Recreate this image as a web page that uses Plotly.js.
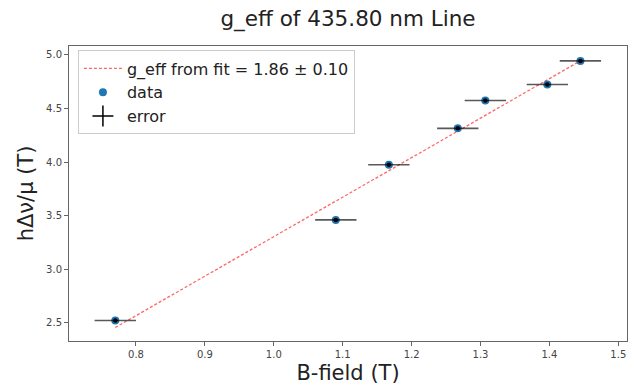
<!DOCTYPE html>
<html>
<head>
<meta charset="utf-8">
<script src="https://cdn.plot.ly/plotly-3.0.1.min.js"></script>
<style>html,body{margin:0;padding:0;background:#fff;}#chart{width:636px;height:385px;}</style>
</head>
<body>
<div id="chart"></div>
<script>
// Data
const bField = [0.77, 1.09, 1.167, 1.267, 1.307, 1.397, 1.445];
const hDnuMu = [2.52, 3.46, 3.975, 4.315, 4.575, 4.725, 4.945];
const bFieldErr = [0.03, 0.03, 0.03, 0.03, 0.03, 0.03, 0.03];
const fitX = [0.77, 1.445];
const fitY = [2.455, 4.945];
const xTicks = [0.8, 0.9, 1.0, 1.1, 1.2, 1.3, 1.4, 1.5];
const yTicks = [2.5, 3.0, 3.5, 4.0, 4.5, 5.0];
const fitLabel = "g_eff from fit = 1.86 ± 0.10";

const font = "DejaVu Sans, sans-serif";

const traces = [
  {
    x: fitX, y: fitY, mode: "lines", name: fitLabel,
    line: {color: "rgba(255,0,0,0.6)", width: 1.3, dash: "3px,2px"}
  },
  {
    x: bField, y: hDnuMu, mode: "markers", name: "data",
    marker: {color: "#1f77b4", size: 8}
  },
  {
    x: bField, y: hDnuMu, mode: "markers", name: "error", showlegend: false,
    marker: {color: "#000000", size: 4.5},
    error_x: {type: "data", array: bFieldErr, visible: true, color: "rgba(0,0,0,0.65)", thickness: 1.6, width: 0}
  },
  {
    x: [null], y: [null], mode: "markers", name: "error",
    marker: {symbol: "cross-thin", size: 15, color: "#000", line: {color: "#000", width: 1.5}}
  }
];

const layout = {
  width: 636, height: 385,
  margin: {l: 69, r: 9, t: 46, b: 44},
  paper_bgcolor: "#fff", plot_bgcolor: "#fff",
  font: {family: font, color: "#222"},
  title: {text: "g_eff of 435.80 nm Line", font: {family: font, size: 21.5, color: "#222"},
          x: 0.5, xref: "paper", y: 1 - 18/385, yref: "container", yanchor: "middle"},
  xaxis: {
    range: [0.7028, 1.5126], tickvals: xTicks, tickformat: ".1f",
    showgrid: false, zeroline: false, showline: true, mirror: true, linecolor: "#666", linewidth: 1,
    ticks: "outside", ticklen: 4, tickcolor: "#666", tickfont: {size: 10, color: "#444"},
    title: {text: "B-field (T)", font: {size: 21, color: "#222"}, standoff: 6}
  },
  yaxis: {
    range: [2.329, 5.084], tickvals: yTicks, tickformat: ".1f",
    showgrid: false, zeroline: false, showline: true, mirror: true, linecolor: "#666", linewidth: 1,
    ticks: "outside", ticklen: 4, tickcolor: "#666", tickfont: {size: 10, color: "#444"},
    title: {text: "hΔν/μ (T)", font: {size: 21, color: "#222"}, standoff: 6}
  },
  legend: {
    x: 0.016, y: 0.985, xanchor: "left", yanchor: "top",
    bgcolor: "#fff", bordercolor: "#ccc", borderwidth: 1,
    itemwidth: 38,
    font: {size: 16, color: "#222"}
  },
  showlegend: true
};

Plotly.newPlot("chart", traces, layout, {displayModeBar: false, staticPlot: true});
</script>
</body>
</html>
